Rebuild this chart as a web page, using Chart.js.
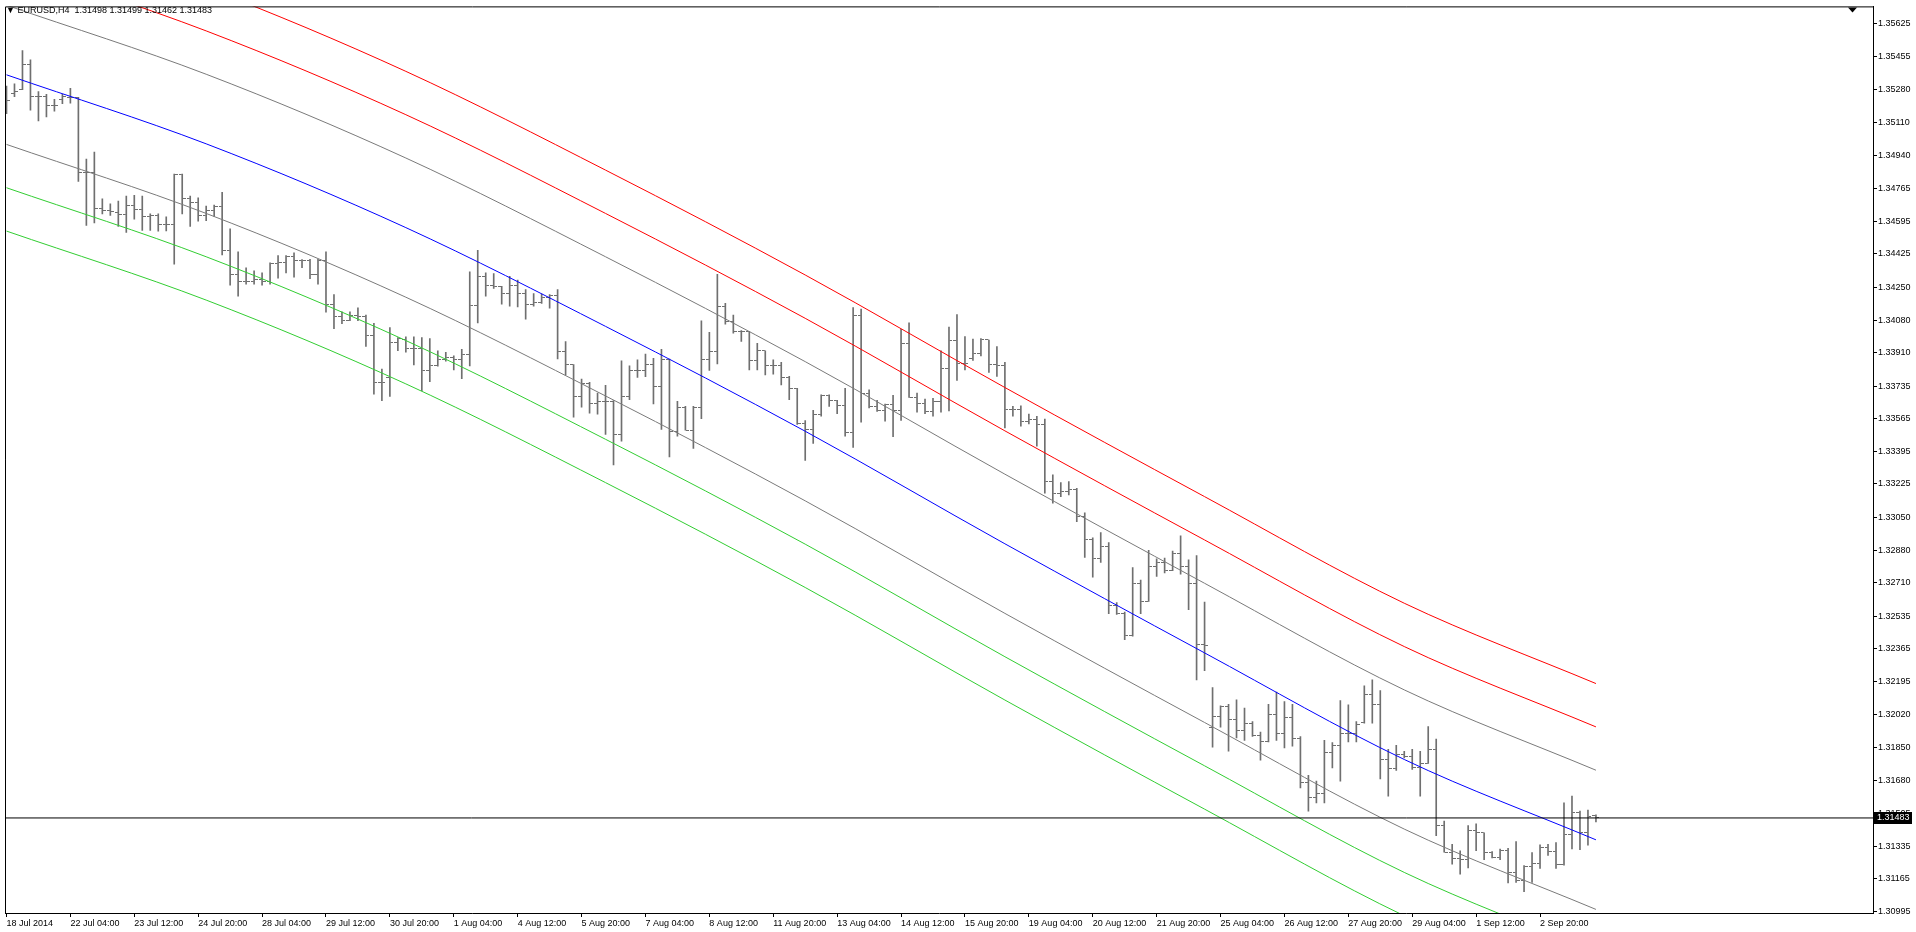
<!DOCTYPE html>
<html>
<head>
<meta charset="UTF-8">
<title>EURUSD,H4</title>
<script src="https://cdn.jsdelivr.net/npm/chart.js"></script>
<style>
  html, body { margin: 0; padding: 0; background: #fff; }
  #wrap { position: relative; width: 1916px; height: 932px; }
  #title { position: absolute; left: 6px; top: 5px; font: 9px "Liberation Sans", Arial, sans-serif; color: #000; white-space: pre; }
</style>
</head>
<body>
<div id="wrap">
  <canvas id="chart" width="1916" height="932"></canvas>
  <div id="title"></div>
</div>
<script>
// EURUSD H4 bars, 18 Jul 2014 20:00 .. 4 Sep 2014
const opens = [
  1.35225,1.35263,1.35281,1.35412,1.35246,1.35246,1.35199,1.35229,1.35242,1.35239,
  1.34848,1.34848,1.34663,1.34651,1.34643,1.34628,1.34677,1.34655,1.34618,1.34624,
  1.34577,1.34577,1.34840,1.34712,1.34691,1.34624,1.34651,1.34670,1.34445,1.34319,
  1.34279,1.34279,1.34291,1.34282,1.34374,1.34378,1.34409,1.34392,1.34392,1.34319,
  1.34392,1.34161,1.34101,1.34080,1.34106,1.34098,1.34000,1.33755,1.33781,1.33962,
  1.33977,1.33929,1.33929,1.33815,1.33843,1.33872,1.33886,1.33872,1.33900,1.34154,
  1.34305,1.34262,1.34253,1.34218,1.34262,1.34218,1.34163,1.34170,1.34198,1.34207,
  1.33915,1.33846,1.33682,1.33751,1.33647,1.33656,1.33656,1.33485,1.33682,1.33815,
  1.33817,1.33850,1.33734,1.33872,1.33501,1.33625,1.33505,1.33625,1.33874,1.33917,
  1.34152,1.34071,1.34018,1.34020,1.33867,1.33920,1.33845,1.33845,1.33779,1.33724,
  1.33540,1.33509,1.33587,1.33685,1.33661,1.33635,1.33492,1.34106,1.33699,1.33630,
  1.33609,1.33642,1.33607,1.33959,1.33677,1.33647,1.33604,1.33654,1.33829,1.33972,
  1.33855,1.33881,1.33903,1.33976,1.33846,1.33841,1.33613,1.33613,1.33552,1.33560,
  1.33535,1.33236,1.33175,1.33184,1.33196,1.33054,1.32935,1.32834,1.32899,1.32591,
  1.32548,1.32436,1.32704,1.32613,1.32794,1.32813,1.32773,1.32864,1.32794,1.32708,
  1.32390,1.31955,1.32012,1.32064,1.31995,1.31938,1.31976,1.31913,1.31883,1.32024,
  1.31924,1.32007,1.31900,1.31666,1.31592,1.31609,1.31826,1.31862,1.31924,1.31924,
  1.31981,1.32125,1.32073,1.31788,1.31741,1.31814,1.31805,1.31744,1.31767,1.31841,
  1.31445,1.31305,1.31271,1.31268,1.31416,1.31406,1.31303,1.31277,1.31311,1.31201,
  1.31156,1.31229,1.31248,1.31329,1.31308,1.31242,1.31398,1.31514,1.31406,1.31498
];
const highs = [
  1.35300,1.35312,1.35485,1.35437,1.35271,1.35257,1.35231,1.35257,1.35288,1.35242,
  1.34919,1.34956,1.34712,1.34686,1.34700,1.34727,1.34731,1.34727,1.34634,1.34634,
  1.34618,1.34841,1.34841,1.34727,1.34717,1.34674,1.34680,1.34746,1.34556,1.34436,
  1.34352,1.34336,1.34326,1.34379,1.34416,1.34416,1.34431,1.34395,1.34397,1.34397,
  1.34436,1.34213,1.34123,1.34123,1.34144,1.34106,1.34063,1.33824,1.34040,1.33988,
  1.33993,1.33993,1.33988,1.33983,1.33920,1.33912,1.33893,1.33927,1.34331,1.34443,
  1.34326,1.34322,1.34256,1.34308,1.34288,1.34239,1.34218,1.34215,1.34213,1.34239,
  1.33968,1.33848,1.33772,1.33755,1.33699,1.33739,1.33660,1.33867,1.33841,1.33872,
  1.33903,1.33880,1.33927,1.33876,1.33656,1.33630,1.33630,1.34076,1.34016,1.34318,
  1.34167,1.34106,1.34025,1.34021,1.33959,1.33920,1.33872,1.33859,1.33786,1.33724,
  1.33556,1.33609,1.33690,1.33690,1.33661,1.33724,1.34145,1.34137,1.33716,1.33661,
  1.33642,1.33687,1.34032,1.34066,1.33699,1.33668,1.33672,1.33919,1.34043,1.34108,
  1.33994,1.33981,1.33983,1.33976,1.33942,1.33860,1.33630,1.33633,1.33590,1.33578,
  1.33564,1.33272,1.33232,1.33237,1.33202,1.33075,1.32944,1.32971,1.32919,1.32606,
  1.32557,1.32789,1.32724,1.32879,1.32834,1.32839,1.32875,1.32955,1.32829,1.32852,
  1.32609,1.32163,1.32068,1.32076,1.32099,1.32056,1.31986,1.31931,1.32076,1.32139,
  1.32090,1.32076,1.31908,1.31705,1.31675,1.31888,1.31876,1.32095,1.32073,1.31986,
  1.32172,1.32204,1.32147,1.31841,1.31862,1.31831,1.31841,1.31831,1.31960,1.31895,
  1.31467,1.31346,1.31311,1.31443,1.31453,1.31406,1.31307,1.31321,1.31324,1.31360,
  1.31234,1.31303,1.31343,1.31346,1.31355,1.31562,1.31597,1.31519,1.31524,1.31499
];
const lows = [
  1.35156,1.35245,1.35281,1.35175,1.35118,1.35139,1.35170,1.35208,1.35211,1.34803,
  1.34573,1.34587,1.34634,1.34625,1.34568,1.34537,1.34606,1.34547,1.34547,1.34544,
  1.34545,1.34371,1.34634,1.34568,1.34596,1.34598,1.34620,1.34419,1.34262,1.34204,
  1.34267,1.34267,1.34262,1.34267,1.34298,1.34326,1.34303,1.34353,1.34296,1.34267,
  1.34121,1.34035,1.34061,1.34077,1.34077,1.33942,1.33693,1.33659,1.33682,1.33920,
  1.33912,1.33846,1.33711,1.33758,1.33840,1.33865,1.33820,1.33774,1.33841,1.34065,
  1.34205,1.34245,1.34163,1.34152,1.34149,1.34085,1.34152,1.34166,1.34142,1.33877,
  1.33794,1.33573,1.33626,1.33594,1.33589,1.33483,1.33324,1.33448,1.33664,1.33781,
  1.33784,1.33643,1.33509,1.33366,1.33474,1.33505,1.33410,1.33566,1.33817,1.33851,
  1.34059,1.34011,1.33968,1.33820,1.33820,1.33794,1.33798,1.33742,1.33664,1.33535,
  1.33348,1.33436,1.33578,1.33630,1.33591,1.33474,1.33415,1.33547,1.33621,1.33604,
  1.33552,1.33472,1.33557,1.33677,1.33599,1.33591,1.33578,1.33599,1.33606,1.33765,
  1.33820,1.33869,1.33893,1.33807,1.33786,1.33517,1.33578,1.33526,1.33538,1.33422,
  1.33177,1.33125,1.33159,1.33168,1.33028,1.32842,1.32739,1.32816,1.32548,1.32545,
  1.32413,1.32431,1.32548,1.32613,1.32743,1.32761,1.32773,1.32755,1.32569,1.32203,
  1.32251,1.31852,1.31957,1.31831,1.31900,1.31888,1.31908,1.31785,1.31879,1.31887,
  1.31848,1.31857,1.31640,1.31519,1.31562,1.31562,1.31744,1.31675,1.31879,1.31879,
  1.31978,1.31978,1.31687,1.31597,1.31731,1.31796,1.31736,1.31597,1.31767,1.31391,
  1.31305,1.31242,1.31190,1.31222,1.31313,1.31265,1.31274,1.31265,1.31144,1.31147,
  1.31098,1.31147,1.31220,1.31287,1.31220,1.31237,1.31321,1.31317,1.31341,1.31462
];
const closes = [
  1.35225,1.35274,1.35412,1.35246,1.35246,1.35199,1.35199,1.35246,1.35242,1.34848,
  1.34848,1.34663,1.34651,1.34646,1.34628,1.34677,1.34655,1.34618,1.34624,1.34577,
  1.34577,1.34840,1.34712,1.34691,1.34624,1.34651,1.34670,1.34445,1.34319,1.34279,
  1.34279,1.34291,1.34282,1.34374,1.34378,1.34409,1.34392,1.34392,1.34319,1.34392,
  1.34161,1.34101,1.34080,1.34106,1.34098,1.34000,1.33755,1.33755,1.33962,1.33985,
  1.33929,1.33929,1.33815,1.33843,1.33872,1.33886,1.33872,1.33900,1.34154,1.34305,
  1.34262,1.34253,1.34218,1.34262,1.34218,1.34163,1.34170,1.34198,1.34207,1.33915,
  1.33846,1.33682,1.33751,1.33647,1.33656,1.33656,1.33485,1.33682,1.33815,1.33817,
  1.33850,1.33734,1.33872,1.33501,1.33625,1.33505,1.33625,1.33874,1.33917,1.34152,
  1.34071,1.34018,1.34020,1.33867,1.33920,1.33845,1.33845,1.33779,1.33724,1.33540,
  1.33509,1.33587,1.33685,1.33661,1.33635,1.33492,1.34106,1.33699,1.33630,1.33609,
  1.33642,1.33607,1.33959,1.33677,1.33647,1.33604,1.33654,1.33829,1.33972,1.33855,
  1.33855,1.33903,1.33976,1.33846,1.33841,1.33613,1.33613,1.33552,1.33560,1.33535,
  1.33236,1.33175,1.33184,1.33196,1.33054,1.32935,1.32834,1.32899,1.32591,1.32548,
  1.32436,1.32704,1.32613,1.32794,1.32813,1.32773,1.32864,1.32794,1.32708,1.32390,
  1.32385,1.32012,1.32064,1.31995,1.31938,1.31976,1.31913,1.31883,1.32024,1.31924,
  1.32007,1.31900,1.31666,1.31592,1.31609,1.31826,1.31862,1.31924,1.31924,1.31969,
  1.32125,1.32073,1.31788,1.31741,1.31814,1.31805,1.31744,1.31767,1.31841,1.31445,
  1.31305,1.31271,1.31268,1.31416,1.31406,1.31303,1.31277,1.31311,1.31201,1.31156,
  1.31229,1.31248,1.31329,1.31308,1.31242,1.31398,1.31514,1.31406,1.31493,1.31483
];

// regression channel, sampled at these bars
const channelBars = [0, 25, 50, 75, 100, 125, 150, 175, 199];
const channelMid    = [1.35359, 1.34999, 1.34562, 1.34047, 1.33500, 1.32913, 1.32344, 1.31788, 1.31369];
const channelUp1    = [1.35722, 1.35362, 1.34925, 1.34410, 1.33863, 1.33276, 1.32707, 1.32151, 1.31732];
const channelDn1    = [1.34996, 1.34636, 1.34199, 1.33684, 1.33137, 1.32550, 1.31981, 1.31425, 1.31006];
const channelUp2    = [1.35948, 1.35588, 1.35151, 1.34636, 1.34089, 1.33502, 1.32933, 1.32377, 1.31958];
const channelDn2    = [1.34770, 1.34410, 1.33973, 1.33458, 1.32911, 1.32324, 1.31755, 1.31199, 1.30780];
const channelUp3    = [1.36174, 1.35814, 1.35377, 1.34862, 1.34315, 1.33728, 1.33159, 1.32603, 1.32184];
const channelDn3    = [1.34544, 1.34184, 1.33747, 1.33232, 1.32685, 1.32098, 1.31529, 1.30973, 1.30554];

// time axis labels (every 8 bars)
const labelBars = [0, 8, 16, 24, 32, 40, 48, 56, 64, 72, 80, 88, 96, 104, 112, 120, 128, 136, 144, 152, 160, 168, 176, 184, 192];
const dateLabels = ['18 Jul 2014', '22 Jul 04:00', '23 Jul 12:00', '24 Jul 20:00', '28 Jul 04:00', '29 Jul 12:00',
  '30 Jul 20:00', '1 Aug 04:00', '4 Aug 12:00', '5 Aug 20:00', '7 Aug 04:00', '8 Aug 12:00', '11 Aug 20:00',
  '13 Aug 04:00', '14 Aug 12:00', '15 Aug 20:00', '19 Aug 04:00', '20 Aug 12:00', '21 Aug 20:00', '25 Aug 04:00',
  '26 Aug 12:00', '27 Aug 20:00', '29 Aug 04:00', '1 Sep 12:00', '2 Sep 20:00'];

const priceTicks = ['1.35625', '1.35455', '1.35280', '1.35110', '1.34940', '1.34765', '1.34595', '1.34425',
  '1.34250', '1.34080', '1.33910', '1.33735', '1.33565', '1.33395', '1.33225', '1.33050', '1.32880', '1.32710',
  '1.32535', '1.32365', '1.32195', '1.32020', '1.31850', '1.31680', '1.31505', '1.31335', '1.31165', '1.30995'];

const barColor = '#6f6f6f';
const last = closes.length - 1;

document.getElementById('title').textContent =
  '\u25BC EURUSD,H4  ' + [opens[last], highs[last], lows[last], closes[last]].map(v => v.toFixed(5)).join(' ');

// little 7x1 images for the open (left) and close (right) ticks
function tickImage(left) {
  const c = document.createElement('canvas');
  c.width = 7; c.height = 1;
  const g = c.getContext('2d');
  g.fillStyle = barColor;
  g.fillRect(left ? 0 : 4, 0, 3, 1);
  return c;
}

function channel(values, color) {
  return {
    type: 'line',
    data: channelBars.map((b, k) => ({ x: b, y: values[k] })),
    borderColor: color,
    borderWidth: 1,
    pointRadius: 0,
    cubicInterpolationMode: 'monotone',
    fill: false
  };
}

const framePlugin = {
  id: 'frame',
  afterDraw(chart) {
    const { ctx, chartArea: a, scales } = chart;
    ctx.save();
    ctx.strokeStyle = '#000';
    ctx.lineWidth = 1;
    ctx.beginPath();
    ctx.moveTo(a.left + 0.5, a.bottom);
    ctx.lineTo(a.left + 0.5, a.top + 0.5);
    ctx.lineTo(a.right, a.top + 0.5);
    ctx.stroke();

    // chart shift marker
    ctx.fillStyle = '#000';
    ctx.beginPath();
    ctx.moveTo(1848, a.top + 1);
    ctx.lineTo(1857, a.top + 1);
    ctx.lineTo(1852.5, a.top + 6);
    ctx.closePath();
    ctx.fill();

    // bid label on price axis
    const y = Math.round(scales.y.getPixelForValue(closes[last]));
    ctx.fillStyle = '#000';
    ctx.fillRect(a.right + 1, y - 6, 38, 12);
    ctx.fillStyle = '#fff';
    ctx.font = '9px "Liberation Sans", Arial, sans-serif';
    ctx.textBaseline = 'middle';
    ctx.fillText(closes[last].toFixed(5), a.right + 4, y);
    ctx.restore();
  }
};

new Chart(document.getElementById('chart'), {
  type: 'bar',
  data: {
    datasets: [
      {
        type: 'line',
        data: [{ x: -5, y: closes[last] }, { x: 240, y: closes[last] }],
        borderColor: '#000', borderWidth: 1, pointRadius: 0
      },
      channel(channelUp3, '#ff0000'),
      channel(channelUp2, '#ff0000'),
      channel(channelUp1, '#7a7a7a'),
      channel(channelMid, '#0000ff'),
      channel(channelDn1, '#7a7a7a'),
      channel(channelDn2, '#32cd32'),
      channel(channelDn3, '#32cd32'),
      {
        type: 'scatter',
        data: opens.map((v, i) => ({ x: i, y: v })),
        pointStyle: tickImage(true)
      },
      {
        type: 'scatter',
        data: closes.map((v, i) => ({ x: i, y: v })),
        pointStyle: tickImage(false)
      },
      {
        type: 'bar',
        data: lows.map((v, i) => ({ x: i, y: [v, highs[i]] })),
        backgroundColor: barColor,
        borderWidth: 0,
        barThickness: 1,
        grouped: false
      }
    ]
  },
  options: {
    responsive: false,
    animation: false,
    events: [],
    layout: { padding: { left: 2, top: 2, right: 0, bottom: 0 } },
    plugins: { legend: { display: false }, tooltip: { enabled: false }, title: { display: false } },
    scales: {
      x: {
        type: 'linear',
        offset: false,
        min: -0.1875,
        max: 233.6875,
        afterBuildTicks: s => { s.ticks = labelBars.map(v => ({ value: v })); },
        afterFit: s => { s.height = 19; },
        grid: { offset: false, drawOnChartArea: false, drawTicks: true, tickLength: 4, color: '#000' },
        border: { display: true, color: '#000' },
        ticks: {
          autoSkip: false, maxRotation: 0, align: 'start', padding: 1, color: '#000',
          font: { family: '"Liberation Sans", Arial, sans-serif', size: 9 },
          callback: v => dateLabels[labelBars.indexOf(v)]
        }
      },
      y: {
        type: 'linear',
        position: 'right',
        min: 1.309873,
        max: 1.357158,
        afterBuildTicks: s => { s.ticks = priceTicks.map(t => ({ value: Number(t) })); },
        afterFit: s => { s.width = 43; },
        grid: { drawOnChartArea: false, drawTicks: true, tickLength: 4, color: '#000' },
        border: { display: true, color: '#000' },
        ticks: {
          autoSkip: false, padding: 1, color: '#000',
          font: { family: '"Liberation Sans", Arial, sans-serif', size: 9 },
          callback: (v, i) => priceTicks[i]
        }
      }
    }
  },
  plugins: [framePlugin]
});
</script>
</body>
</html>
